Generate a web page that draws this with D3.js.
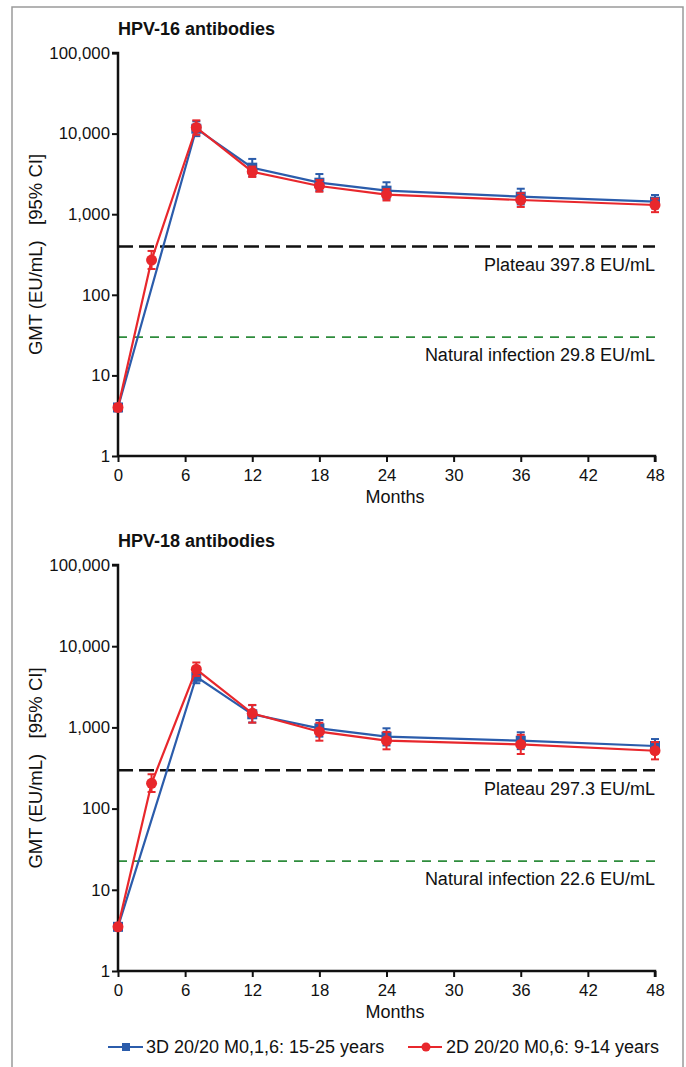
<!DOCTYPE html>
<html>
<head>
<meta charset="utf-8">
<script src="https://cdn.jsdelivr.net/npm/d3@7"></script>
<style>
  body { margin: 0; background: #fff; }
  svg text { font-family: "Liberation Sans", Arial, sans-serif; fill: #111; }
</style>
</head>
<body>
<div class="container"></div>
<script>
// data
const monthsBlue = [0, 7, 12, 18, 24, 36, 48];
const monthsRed = [0, 3, 7, 12, 18, 24, 36, 48];

const hpv16Blue = [4.0, 11500, 3780, 2460, 1960, 1650, 1430];
const hpv16BlueLo = [3.6, 9300, 2950, 1950, 1550, 1320, 1180];
const hpv16BlueHi = [4.4, 14200, 4850, 3150, 2490, 2070, 1730];
const hpv16Red = [4.0, 270, 11900, 3370, 2240, 1745, 1500, 1300];
const hpv16RedLo = [3.6, 209, 9700, 2900, 1900, 1480, 1230, 1060];
const hpv16RedHi = [4.4, 350, 14600, 3900, 2650, 2050, 1820, 1560];

const hpv18Blue = [3.5, 4200, 1450, 975, 768, 686, 590];
const hpv18BlueLo = [3.2, 3500, 1150, 770, 600, 540, 480];
const hpv18BlueHi = [3.8, 5050, 1880, 1234, 975, 871, 719];
const hpv18Red = [3.5, 205, 5200, 1490, 885, 686, 617, 516];
const hpv18RedLo = [3.2, 160, 4300, 1143, 686, 537, 470, 404];
const hpv18RedHi = [3.8, 265, 6300, 1890, 1140, 880, 810, 660];

const yTicks = [1, 10, 100, 1000, 10000, 100000];
const xTicks = [0, 6, 12, 18, 24, 30, 36, 42, 48];
const legendLabels = ["3D 20/20 M0,1,6: 15-25 years", "2D 20/20 M0,6: 9-14 years"];

const blue = "#2b5cab";
const red = "#e8272c";
const green = "#2e8c3c";

const W = 686, H = 1067;
const svg = d3.select(".container")
  .append("svg")
  .attr("width", W)
  .attr("height", H);

// outer frame
svg.append("path")
  .attr("d", `M12,${H} V7 H683 V${H}`)
  .attr("fill", "none")
  .attr("stroke", "#9a9a9a")
  .attr("stroke-width", 1.5);

const x = d3.scaleLinear().domain([0, 48]).range([118, 655]);

function panel(cfg) {
  const y = d3.scaleLog().domain([1, 100000]).range([cfg.bottom, cfg.top]);
  const g = svg.append("g");

  g.append("text")
    .attr("x", 118).attr("y", cfg.top - 18)
    .style("font-size", "18px").style("font-weight", "bold")
    .text(cfg.title);

  // reference lines
  g.append("line")
    .attr("x1", x(0)).attr("x2", x(48))
    .attr("y1", y(cfg.plateau)).attr("y2", y(cfg.plateau))
    .attr("stroke", "#111").attr("stroke-width", 2.5)
    .attr("stroke-dasharray", "15,6");
  g.append("text")
    .attr("x", x(48)).attr("y", y(cfg.plateau) + 25)
    .attr("text-anchor", "end").style("font-size", "18px")
    .text(`Plateau ${cfg.plateau} EU/mL`);

  g.append("line")
    .attr("x1", x(0)).attr("x2", x(48))
    .attr("y1", y(cfg.natural)).attr("y2", y(cfg.natural))
    .attr("stroke", green).attr("stroke-width", 1.8)
    .attr("stroke-dasharray", "9,7");
  g.append("text")
    .attr("x", x(48)).attr("y", y(cfg.natural) + 24)
    .attr("text-anchor", "end").style("font-size", "18px")
    .text(`Natural infection ${cfg.natural} EU/mL`);

  // axes
  const ya = g.append("g")
    .attr("transform", "translate(118,0)")
    .call(d3.axisLeft(y).tickValues(yTicks).tickFormat(d3.format(",")).tickSize(6).tickPadding(2));
  const xa = g.append("g")
    .attr("transform", `translate(0,${cfg.bottom})`)
    .call(d3.axisBottom(x).tickValues(xTicks).tickSize(6).tickPadding(7));
  [ya, xa].forEach(a => {
    a.select(".domain").attr("stroke", "#111").attr("stroke-width", 2.5);
    a.selectAll(".tick line").attr("stroke", "#111").attr("stroke-width", 2);
    a.selectAll("text").style("font-size", "16.8px").attr("fill", "#111")
      .style("font-family", "'Liberation Sans', Arial, sans-serif");
  });
  ya.select(".domain").attr("d", `M-6,${cfg.top}H0V${cfg.bottom}`);
  xa.select(".domain").attr("d", `M${x(0)},0H${x(48)}V6`);

  g.append("text")
    .attr("x", 395).attr("y", cfg.bottom + 47)
    .attr("text-anchor", "middle").style("font-size", "18px")
    .text("Months");

  g.append("text")
    .attr("transform", `translate(42,${(cfg.top + cfg.bottom) / 2}) rotate(-90)`)
    .attr("text-anchor", "middle").style("font-size", "18.5px")
    .attr("xml:space", "preserve")
    .text("GMT (EU/mL)   [95% CI]");

  const line = d3.line().x(d => x(d.m)).y(d => y(d.v));

  function series(months, vals, lo, hi, color, shape) {
    const pts = months.map((m, i) => ({ m, v: vals[i], lo: lo[i], hi: hi[i] }));
    const s = g.append("g");
    s.append("path").datum(pts)
      .attr("d", line)
      .attr("fill", "none")
      .attr("stroke", color)
      .attr("stroke-width", 2.2);
    const eb = s.selectAll(".eb").data(pts).join("g");
    eb.append("line")
      .attr("x1", d => x(d.m)).attr("x2", d => x(d.m))
      .attr("y1", d => y(d.lo)).attr("y2", d => y(d.hi))
      .attr("stroke", color).attr("stroke-width", 2);
    eb.append("line")
      .attr("x1", d => x(d.m) - 4).attr("x2", d => x(d.m) + 4)
      .attr("y1", d => y(d.lo)).attr("y2", d => y(d.lo))
      .attr("stroke", color).attr("stroke-width", 2);
    eb.append("line")
      .attr("x1", d => x(d.m) - 4).attr("x2", d => x(d.m) + 4)
      .attr("y1", d => y(d.hi)).attr("y2", d => y(d.hi))
      .attr("stroke", color).attr("stroke-width", 2);
    if (shape === "square") {
      s.selectAll(".mk").data(pts).join("rect")
        .attr("x", d => x(d.m) - 5).attr("y", d => y(d.v) - 5)
        .attr("width", 10).attr("height", 10)
        .attr("fill", color);
    } else {
      s.selectAll(".mk").data(pts).join("circle")
        .attr("cx", d => x(d.m)).attr("cy", d => y(d.v))
        .attr("r", 5.5)
        .attr("fill", color);
    }
  }

  series(monthsBlue, cfg.blue, cfg.blueLo, cfg.blueHi, blue, "square");
  series(monthsRed, cfg.red, cfg.redLo, cfg.redHi, red, "circle");
}

panel({
  title: "HPV-16 antibodies", top: 53, bottom: 456,
  plateau: 397.8, natural: 29.8,
  blue: hpv16Blue, blueLo: hpv16BlueLo, blueHi: hpv16BlueHi,
  red: hpv16Red, redLo: hpv16RedLo, redHi: hpv16RedHi
});

panel({
  title: "HPV-18 antibodies", top: 565, bottom: 971,
  plateau: 297.3, natural: 22.6,
  blue: hpv18Blue, blueLo: hpv18BlueLo, blueHi: hpv18BlueHi,
  red: hpv18Red, redLo: hpv18RedLo, redHi: hpv18RedHi
});

// legend
const legend = svg.append("g").attr("transform", "translate(0,1047)");
legend.append("line").attr("x1", 108).attr("x2", 143).attr("stroke", blue).attr("stroke-width", 2.2);
legend.append("rect").attr("x", 122).attr("y", -4).attr("width", 8).attr("height", 8).attr("fill", blue);
legend.append("text").attr("x", 146).attr("y", 6).style("font-size", "18px").text(legendLabels[0]);
legend.append("line").attr("x1", 408).attr("x2", 442).attr("stroke", red).attr("stroke-width", 2.2);
legend.append("circle").attr("cx", 426).attr("cy", 0).attr("r", 4.5).attr("fill", red);
legend.append("text").attr("x", 446).attr("y", 6).style("font-size", "18px").text(legendLabels[1]);
</script>
</body>
</html>
